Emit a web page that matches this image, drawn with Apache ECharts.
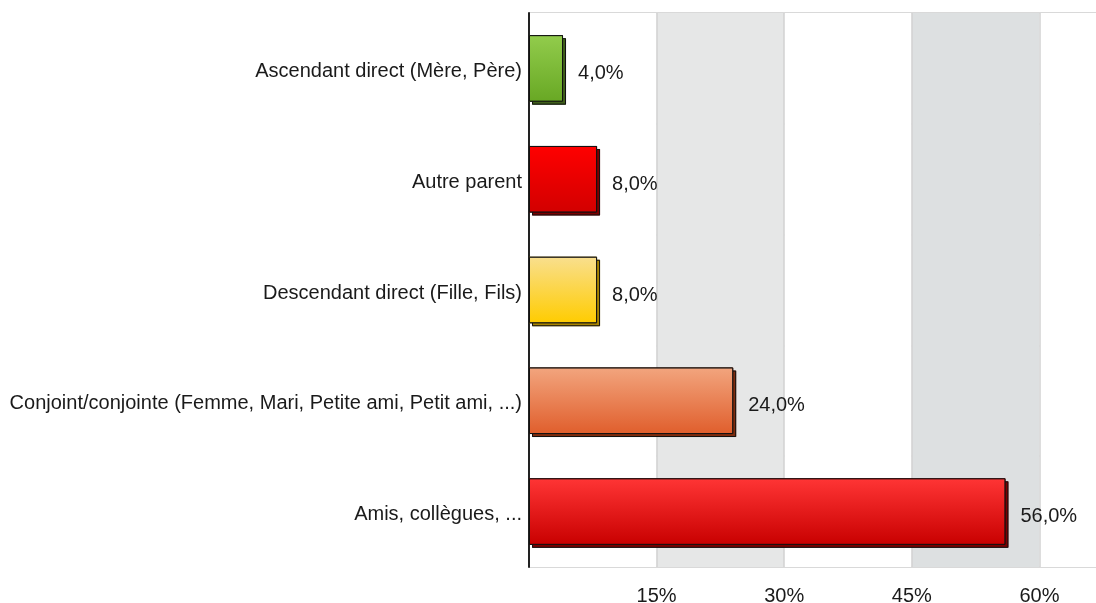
<!DOCTYPE html>
<html>
<head>
<meta charset="utf-8">
<script src="https://cdn.jsdelivr.net/npm/echarts@6/dist/echarts.min.js"></script>
<style>
  html, body { margin: 0; padding: 0; background: #ffffff; }
  #chart { width: 1096px; height: 603px; }
</style>
</head>
<body>
<div id="chart"></div>
<script>
// Categories (top to bottom) and their shares in percent
const categories = [
  'Ascendant direct (Mère, Père)',
  'Autre parent',
  'Descendant direct (Fille, Fils)',
  'Conjoint/conjointe (Femme, Mari, Petite ami, Petit ami, ...)',
  'Amis, collègues, ...'
];
const values = [4.0, 8.0, 8.0, 24.0, 56.0];
const tickValues = [15, 30, 45, 60];

// Per-bar fill gradient (top, bottom) and the darker "depth" colour
const barStyles = [
  { top: '#92cc4c', bottom: '#68a824', depth: '#3f5f1a' },
  { top: '#ff0000', bottom: '#d20000', depth: '#7a0000' },
  { top: '#f9df8e', bottom: '#ffcc00', depth: '#a88400' },
  { top: '#f2a57e', bottom: '#e05e2c', depth: '#7e2c0e' },
  { top: '#ff3535', bottom: '#c80000', depth: '#7a0000' }
];

const FONT = '"Liberation Sans", Arial, Helvetica, sans-serif';
const DEPTH = 3;

// Depth faces: a hard offset shadow in the darker hue of each bar
const depthData = values.map((v, i) => ({
  value: v,
  itemStyle: {
    color: barStyles[i].depth,
    shadowColor: barStyles[i].depth,
    shadowBlur: 0,
    shadowOffsetX: DEPTH,
    shadowOffsetY: DEPTH
  }
}));

// Outline of the depth faces: only the stroke casts the offset shadow
const edgeData = values.map(v => ({
  value: v,
  itemStyle: {
    color: 'rgba(0,0,0,0)',
    borderColor: '#111111',
    borderWidth: 1,
    shadowColor: '#111111',
    shadowBlur: 0,
    shadowOffsetX: DEPTH,
    shadowOffsetY: DEPTH
  }
}));

// Front face: vertical gradient with a thin dark outline
const faceData = values.map((v, i) => ({
  value: v,
  itemStyle: {
    color: new echarts.graphic.LinearGradient(0, 0, 0, 1, [
      { offset: 0, color: barStyles[i].top },
      { offset: 1, color: barStyles[i].bottom }
    ]),
    borderColor: '#111111',
    borderWidth: 1
  }
}));

const barCommon = { type: 'bar', barWidth: '60%', barGap: '-100%' };

const chart = echarts.init(document.getElementById('chart'), null, { renderer: 'canvas' });
chart.setOption({
  animation: false,
  backgroundColor: '#ffffff',
  grid: {
    left: 529, width: 587, top: 13, bottom: 36,
    containLabel: false,
    outerBoundsMode: 'none'
  },
  xAxis: {
    type: 'value',
    min: 0,
    max: 69,
    interval: 15,
    axisLine: { show: false },
    axisTick: { show: false },
    axisLabel: {
      showMinLabel: false,
      showMaxLabel: false,
      margin: 19,
      color: '#1a1a1a',
      fontFamily: FONT,
      fontSize: 20,
      formatter: v => (tickValues.indexOf(v) >= 0 ? v + '%' : '')
    },
    splitLine: { show: true, lineStyle: { color: '#d2d2d2', width: 1.5 } },
    splitArea: {
      show: true,
      areaStyle: { color: ['#ffffff', '#e6e7e7', '#ffffff', '#dde0e1', '#ffffff'] }
    }
  },
  yAxis: {
    type: 'category',
    inverse: true,
    data: categories,
    axisLine: { show: true, lineStyle: { color: '#222222', width: 2 } },
    axisTick: { show: false },
    axisLabel: {
      margin: 7,
      color: '#1a1a1a',
      fontFamily: FONT,
      fontSize: 20,
      formatter: v => '{t|' + v + '}',
      rich: {
        t: {
          color: '#1a1a1a',
          fontFamily: FONT,
          fontSize: 20,
          padding: [6, 0, 0, 0]
        }
      }
    },
    splitLine: { show: true, lineStyle: { color: '#cccccc', width: 1.5 } }
  },
  series: [
    Object.assign({}, barCommon, { data: depthData, z: 2, silent: true }),
    Object.assign({}, barCommon, { data: edgeData, z: 2.5, silent: true }),
    Object.assign({}, barCommon, {
      data: faceData,
      z: 3,
      label: {
        show: true,
        position: 'right',
        distance: 15,
        offset: [0, 5],
        color: '#1a1a1a',
        fontFamily: FONT,
        fontSize: 20,
        formatter: p => p.value.toFixed(1).replace('.', ',') + '%'
      }
    })
  ]
});
</script>
</body>
</html>
